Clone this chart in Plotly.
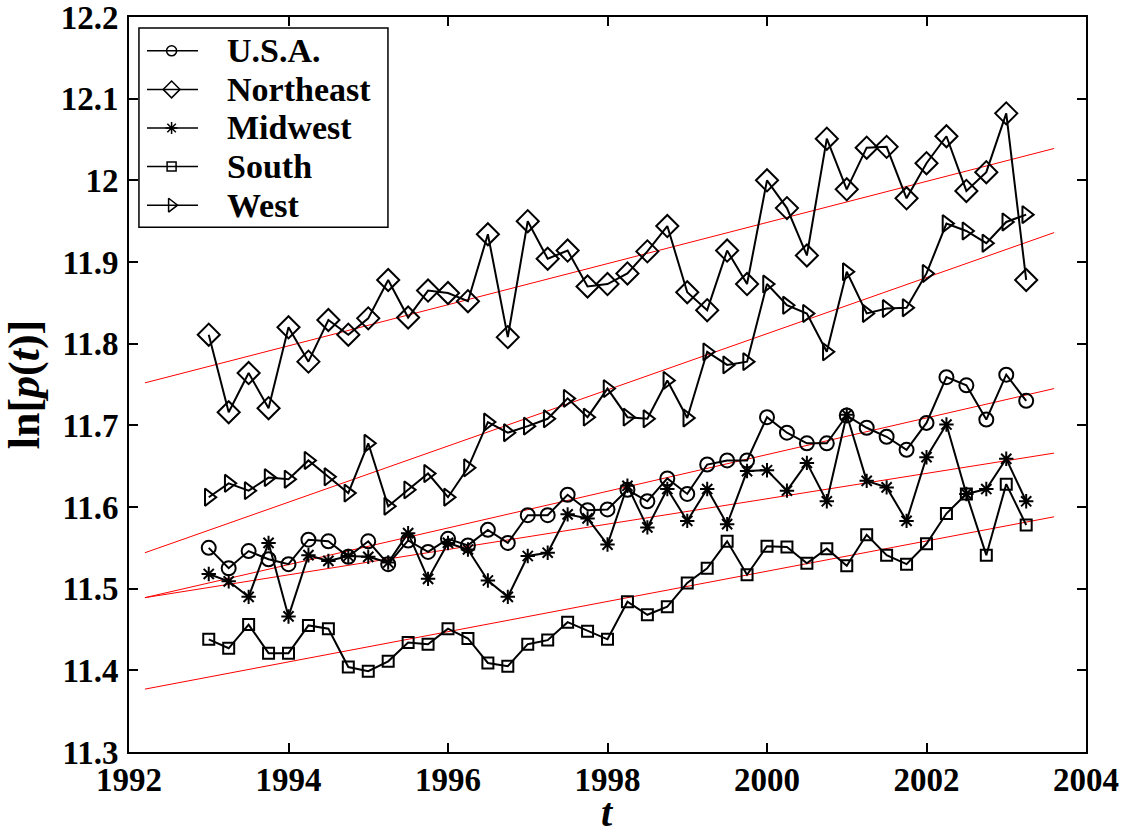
import plotly.graph_objects as go

# trimestres 1993.00 .. 2003.25
quarters = [1993 + q / 4 for q in range(42)]

usa = [11.550, 11.525, 11.546, 11.536, 11.530, 11.560, 11.558, 11.539, 11.558, 11.530,
       11.559, 11.545, 11.561, 11.553, 11.572, 11.556, 11.590, 11.590, 11.615, 11.596,
       11.597, 11.621, 11.607, 11.635, 11.616, 11.652, 11.657, 11.657, 11.710, 11.691,
       11.678, 11.678, 11.712, 11.697, 11.686, 11.670, 11.703, 11.759, 11.749, 11.707,
       11.762, 11.730]
northeast = [11.811, 11.716, 11.764, 11.721, 11.820, 11.778, 11.829, 11.811, 11.831, 11.878,
             11.832, 11.865, 11.862, 11.852, 11.934, 11.808, 11.950, 11.904, 11.914, 11.870,
             11.873, 11.886, 11.913, 11.944, 11.863, 11.841, 11.914, 11.873, 12.000, 11.966,
             11.908, 12.051, 11.989, 12.040, 12.041, 11.978, 12.021, 12.054, 11.987, 12.010,
             12.082, 11.878]
midwest = [11.518, 11.509, 11.490, 11.556, 11.466, 11.541, 11.534, 11.540, 11.539, 11.532,
           11.568, 11.512, 11.556, 11.548, 11.510, 11.490, 11.540, 11.544, 11.591, 11.586,
           11.554, 11.626, 11.575, 11.622, 11.583, 11.622, 11.579, 11.644, 11.645, 11.620,
           11.654, 11.607, 11.713, 11.632, 11.624, 11.583, 11.661, 11.701, 11.616, 11.622,
           11.659, 11.607]
south = [11.438, 11.427, 11.456, 11.421, 11.421, 11.455, 11.451, 11.404, 11.399, 11.411,
         11.434, 11.432, 11.451, 11.439, 11.409, 11.405, 11.432, 11.437, 11.459, 11.448,
         11.438, 11.484, 11.468, 11.478, 11.507, 11.525, 11.558, 11.517, 11.552, 11.551,
         11.531, 11.549, 11.528, 11.566, 11.541, 11.530, 11.555, 11.592, 11.616, 11.541,
         11.628, 11.578]
west = [11.612, 11.629, 11.620, 11.636, 11.634, 11.657, 11.637, 11.617, 11.678, 11.601,
        11.621, 11.641, 11.612, 11.648, 11.704, 11.691, 11.699, 11.708, 11.733, 11.710,
        11.745, 11.710, 11.708, 11.755, 11.709, 11.790, 11.774, 11.778, 11.873, 11.847,
        11.837, 11.790, 11.888, 11.837, 11.843, 11.844, 11.886, 11.947, 11.938, 11.923,
        11.949, 11.958]

# rectas de ajuste (extremos)
fit_t = [1992.2, 2003.6]
fit_usa = [11.489, 11.745]
fit_northeast = [11.752, 12.039]
fit_midwest = [11.489, 11.666]
fit_south = [11.377, 11.588]
fit_west = [11.544, 11.936]

y_ticks = [11.3, 11.4, 11.5, 11.6, 11.7, 11.8, 11.9, 12.0, 12.1, 12.2]
y_labels = ["11.3", "11.4", "11.5", "11.6", "11.7", "11.8", "11.9", "12", "12.1", "12.2"]
x_ticks = [1992, 1994, 1996, 1998, 2000, 2002, 2004]

FONT = "Liberation Serif"

# nombre, datos, símbolo, tamaño en la gráfica, tamaño en la leyenda
series = [
    ("U.S.A.", usa, "circle-open", 14, 10),
    ("Northeast", northeast, "diamond-open", 17, 13),
    ("Midwest", midwest, "asterisk-open", 12, 10),
    ("South", south, "square-open", 11, 9),
    ("West", west, "triangle-right-open", 15, 12),
]

fig = go.Figure()

for fit in [fit_northeast, fit_west, fit_usa, fit_midwest, fit_south]:
    fig.add_trace(go.Scatter(x=fit_t, y=fit, mode="lines", showlegend=False,
                             line=dict(color="red", width=1)))

for name, vals, sym, size, _ in series:
    fig.add_trace(go.Scatter(
        x=quarters, y=vals, mode="lines+markers", name=name, showlegend=False,
        line=dict(color="black", width=2),
        marker=dict(symbol=sym, size=size, color="black", line=dict(width=2, color="black")),
    ))

# leyenda dibujada a mano en un eje superpuesto [0,1] x [0,1]
LEG_X0, LEG_X1, LEG_Y0, LEG_Y1 = 0.0104, 0.2706, 0.714, 0.985
LEG_ROW0, LEG_STEP = 0.954, 0.0525
fig.add_shape(type="rect", xref="x2", yref="y2", x0=LEG_X0, x1=LEG_X1, y0=LEG_Y0, y1=LEG_Y1,
              line=dict(color="black", width=1.5), fillcolor="white", layer="below")
for k, (name, vals, sym, size, lsize) in enumerate(series):
    yk = LEG_ROW0 - k * LEG_STEP
    fig.add_trace(go.Scatter(x=[0.0188, 0.0721], y=[yk, yk], xaxis="x2", yaxis="y2",
                             mode="lines", showlegend=False, hoverinfo="skip",
                             line=dict(color="black", width=1.5)))
    fig.add_trace(go.Scatter(x=[0.0445], y=[yk], xaxis="x2", yaxis="y2",
                             mode="markers", showlegend=False, hoverinfo="skip",
                             marker=dict(symbol=sym, size=lsize, color="black",
                                         line=dict(width=1.5, color="black"))))
    fig.add_annotation(x=0.1, y=yk, xref="x2", yref="y2", text=f"<b>{name}</b>",
                       showarrow=False, xanchor="left", yanchor="middle",
                       font=dict(family=FONT, size=34, color="black"))

# título del eje x como anotación
fig.add_annotation(x=0.5, y=-0.1156, xref="paper", yref="paper", text="<b><i>t</i></b>",
                   showarrow=False, xanchor="center", yanchor="bottom",
                   font=dict(family=FONT, size=40, color="black"))

axis_common = dict(
    showline=True, linecolor="black", linewidth=2, mirror="ticks",
    ticks="inside", ticklen=9, tickwidth=1.5, tickcolor="black",
    showgrid=False, zeroline=False, ticklabeloverflow="allow", automargin=False,
    tickfont=dict(family=FONT, size=33, color="black", weight="bold"),
)

fig.update_layout(
    width=1128, height=837,
    plot_bgcolor="white", paper_bgcolor="white",
    margin=dict(l=129, r=42, t=17, b=85),
    font=dict(family=FONT, color="black"),
    showlegend=False,
    xaxis=dict(range=[1992, 2004], tickvals=x_ticks, ticklabelstandoff=-3, **axis_common),
    yaxis=dict(range=[11.3, 12.2], tickvals=y_ticks, ticktext=y_labels, ticklabelstandoff=2,
               **axis_common,
               title=dict(text="<b>ln[<i>p</i>(<i>t</i>)]</b>", font=dict(family=FONT, size=44), standoff=10)),
    xaxis2=dict(overlaying="x", range=[0, 1], visible=False, fixedrange=True),
    yaxis2=dict(overlaying="y", range=[0, 1], visible=False, fixedrange=True),
)

# sin margen del <body> para que la figura quede en (0, 0)
fig.write_html("out.html", config={"displayModeBar": False},
               post_script="document.body.style.margin='0';")
